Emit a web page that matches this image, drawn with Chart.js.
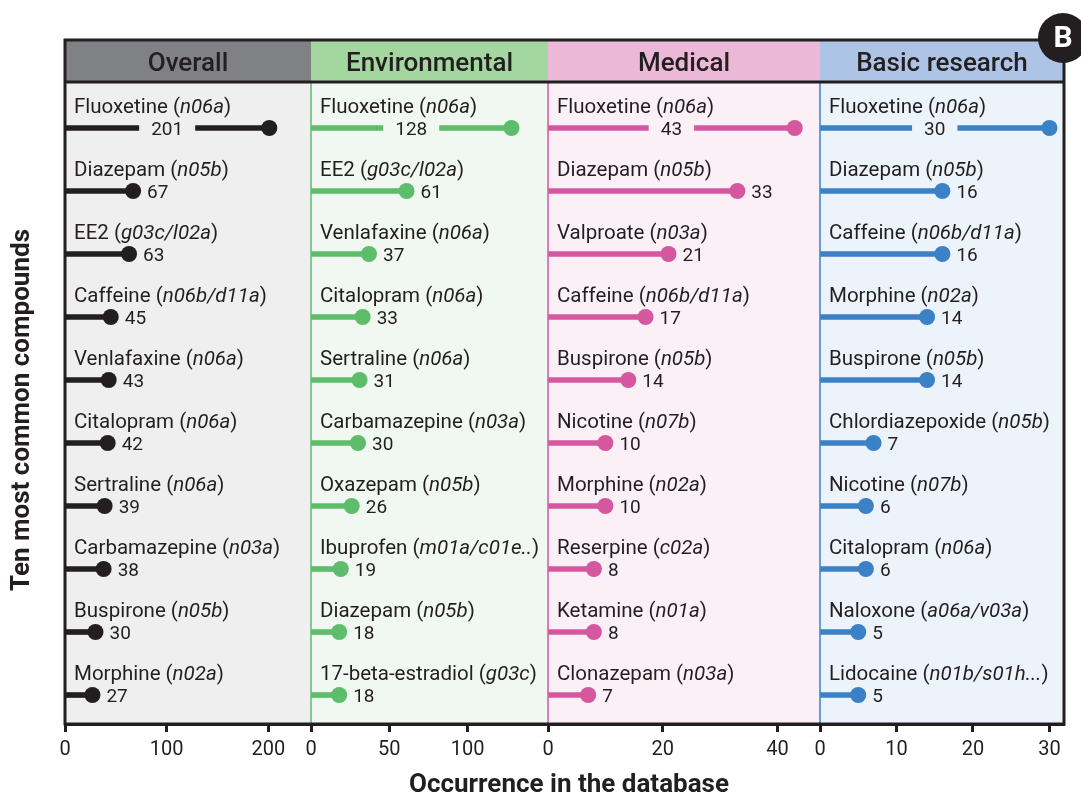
<!DOCTYPE html>
<html>
<head>
<meta charset="utf-8">
<script src="https://cdn.jsdelivr.net/npm/chart.js@4.4.1/dist/chart.umd.min.js"></script>
<style>
html, body { margin: 0; padding: 0; background: #fff; }
#wrap { width: 1081px; height: 794px; }
</style>
</head>
<body>
<div id="wrap"><canvas id="chart-lollipop" width="1081" height="794"></canvas></div>
<script>
const panelTitles = ['Overall', 'Environmental', 'Medical', 'Basic research']
const ranks = [1, 2, 3, 4, 5, 6, 7, 8, 9, 10]

const overallNames = ['Fluoxetine', 'Diazepam', 'EE2', 'Caffeine', 'Venlafaxine', 'Citalopram', 'Sertraline', 'Carbamazepine', 'Buspirone', 'Morphine']
const overallCodes = ['n06a', 'n05b', 'g03c/l02a', 'n06b/d11a', 'n06a', 'n06a', 'n06a', 'n03a', 'n05b', 'n02a']
const overallValues = [201, 67, 63, 45, 43, 42, 39, 38, 30, 27]

const envNames = ['Fluoxetine', 'EE2', 'Venlafaxine', 'Citalopram', 'Sertraline', 'Carbamazepine', 'Oxazepam', 'Ibuprofen', 'Diazepam', '17-beta-estradiol']
const envCodes = ['n06a', 'g03c/l02a', 'n06a', 'n06a', 'n06a', 'n03a', 'n05b', 'm01a/c01e..', 'n05b', 'g03c']
const envValues = [128, 61, 37, 33, 31, 30, 26, 19, 18, 18]

const medNames = ['Fluoxetine', 'Diazepam', 'Valproate', 'Caffeine', 'Buspirone', 'Nicotine', 'Morphine', 'Reserpine', 'Ketamine', 'Clonazepam']
const medCodes = ['n06a', 'n05b', 'n03a', 'n06b/d11a', 'n05b', 'n07b', 'n02a', 'c02a', 'n01a', 'n03a']
const medValues = [43, 33, 21, 17, 14, 10, 10, 8, 8, 7]

const basicNames = ['Fluoxetine', 'Diazepam', 'Caffeine', 'Morphine', 'Buspirone', 'Chlordiazepoxide', 'Nicotine', 'Citalopram', 'Naloxone', 'Lidocaine']
const basicCodes = ['n06a', 'n05b', 'n06b/d11a', 'n02a', 'n05b', 'n05b', 'n07b', 'n06a', 'a06a/v03a', 'n01b/s01h...']
const basicValues = [30, 16, 16, 14, 14, 7, 6, 6, 5, 5]

const overallTicks = [0, 100, 200]
const envTicks = [0, 50, 100]
const medTicks = [0, 20, 40]
const basicTicks = [0, 10, 20, 30]

const TEXT = '#231f20'
const FONT = 'Roboto, "Noto Sans", sans-serif'
const LABEL_SIZE = 20.5

const panels = [
    {names: overallNames, codes: overallCodes, values: overallValues, ticks: overallTicks, max: 242, weight: 246,
     line: '#231f20', head: '#808184', bg: '#eeefee'},
    {names: envNames, codes: envCodes, values: envValues, ticks: envTicks, max: 151.3, weight: 237,
     line: '#5dbd6a', head: '#a4d6a0', bg: '#f1f8f1'},
    {names: medNames, codes: medCodes, values: medValues, ticks: medTicks, max: 47.4, weight: 272,
     line: '#d4579f', head: '#ecb8d7', bg: '#fbf0f6'},
    {names: basicNames, codes: basicCodes, values: basicValues, ticks: basicTicks, max: 31.9, weight: 244,
     line: '#3a81c6', head: '#adc4e6', bg: '#edf3fb'}
]

const datasets = []
const scales = {
    y: {type: 'linear', display: false, reverse: true, offset: false, grace: 0, beginAtZero: false,
        min: 0.27, max: 10.46, grid: {offset: false}}
}

panels.forEach((p, i) => {
    const pts = p.values.map((v, k) => ({x: v, y: ranks[k]}))
    datasets.push({
        type: 'bar', indexAxis: 'y', grouped: false,
        xAxisID: 'x' + i, yAxisID: 'y',
        data: pts,
        backgroundColor: p.line,
        borderWidth: 0,
        barThickness: 5
    })
    datasets.push({
        type: 'scatter',
        xAxisID: 'x' + i, yAxisID: 'y',
        data: pts,
        pointRadius: 8,
        pointHoverRadius: 8,
        pointBackgroundColor: p.line,
        pointBorderWidth: 0
    })
    scales['x' + i] = {
        type: 'linear', axis: 'x', position: 'bottom',
        stack: 'panels', stackWeight: p.weight,
        offset: false,
        min: 0, max: p.max,
        afterBuildTicks: s => { s.ticks = p.ticks.map(v => ({value: v})) },
        afterFit: s => { s.height = 36 },
        grid: {display: true, offset: false, drawOnChartArea: false, drawTicks: true, tickLength: 8, tickWidth: 3, tickColor: TEXT},
        border: {display: true, color: TEXT, width: 3},
        ticks: {autoSkip: false, maxRotation: 0, padding: 6, color: TEXT, font: {family: FONT, size: 20}}
    }
})

function drawLabel(ctx, x, y, name, code) {
    ctx.textAlign = 'left'
    ctx.textBaseline = 'alphabetic'
    ctx.font = LABEL_SIZE + 'px ' + FONT
    let s = name + ' ('
    ctx.fillText(s, x, y)
    x += ctx.measureText(s).width
    ctx.font = 'italic ' + LABEL_SIZE + 'px ' + FONT
    ctx.fillText(code, x, y)
    x += ctx.measureText(code).width
    ctx.font = LABEL_SIZE + 'px ' + FONT
    ctx.fillText(')', x, y)
}

const panelPlugin = {
    id: 'panelDecor',
    beforeDraw(chart) {
        const ctx = chart.ctx
        const area = chart.chartArea
        ctx.save()
        panels.forEach((p, i) => {
            const sc = chart.scales['x' + i]
            ctx.fillStyle = p.bg
            ctx.fillRect(sc.left, area.top, sc.right - sc.left, area.bottom - area.top)
            ctx.fillStyle = p.head
            ctx.fillRect(sc.left, 40, sc.right - sc.left, area.top - 40)
            if (i > 0) {
                ctx.strokeStyle = p.line
                ctx.lineWidth = 1.5
                ctx.beginPath()
                ctx.moveTo(sc.left, area.top)
                ctx.lineTo(sc.left, area.bottom)
                ctx.stroke()
            }
        })
        ctx.restore()
    },
    afterDatasetsDraw(chart) {
        const ctx = chart.ctx
        const yScale = chart.scales.y
        ctx.save()
        ctx.fillStyle = TEXT
        panels.forEach((p, i) => {
            const sc = chart.scales['x' + i]
            p.values.forEach((v, k) => {
                const y = yScale.getPixelForValue(ranks[k])
                const xv = sc.getPixelForValue(v)
                ctx.fillStyle = TEXT
                drawLabel(ctx, sc.left + 9, y - 15, p.names[k], p.codes[k])
                ctx.font = '19px ' + FONT
                ctx.textBaseline = 'alphabetic'
                if (k === 0) {
                    const x0 = sc.getPixelForValue(0)
                    const mid = (x0 + xv) / 2
                    const w = ctx.measureText(String(v)).width + 24
                    ctx.fillStyle = p.bg
                    ctx.fillRect(mid - w / 2, y - 5, w, 10)
                    ctx.fillStyle = TEXT
                    ctx.textAlign = 'center'
                    ctx.fillText(String(v), mid, y + 7)
                } else {
                    ctx.textAlign = 'left'
                    ctx.fillText(String(v), xv + 14, y + 7)
                }
            })
        })
        ctx.restore()
    },
    afterDraw(chart) {
        const ctx = chart.ctx
        const area = chart.chartArea
        ctx.save()
        // header titles
        ctx.fillStyle = TEXT
        ctx.font = '500 26px ' + FONT
        ctx.textAlign = 'center'
        ctx.textBaseline = 'alphabetic'
        panels.forEach((p, i) => {
            const sc = chart.scales['x' + i]
            ctx.fillText(panelTitles[i], (sc.left + sc.right) / 2, 71)
        })
        // frame
        ctx.strokeStyle = TEXT
        ctx.lineWidth = 3
        ctx.strokeRect(area.left, 40, area.right - area.left, area.bottom - 40)
        ctx.beginPath()
        ctx.moveTo(area.left, area.top)
        ctx.lineTo(area.right, area.top)
        ctx.stroke()
        // axis titles
        ctx.font = 'bold 26px ' + FONT
        ctx.fillText('Occurrence in the database', 569, 792)
        ctx.save()
        ctx.translate(22, 410)
        ctx.rotate(-Math.PI / 2)
        ctx.textBaseline = 'middle'
        ctx.fillText('Ten most common compounds', 0, 0)
        ctx.restore()
        // panel badge
        ctx.fillStyle = TEXT
        ctx.beginPath()
        ctx.arc(1063, 38, 25, 0, Math.PI * 2)
        ctx.fill()
        ctx.fillStyle = '#ffffff'
        ctx.font = 'bold 30px ' + FONT
        ctx.textBaseline = 'middle'
        ctx.fillText('B', 1063, 39)
        ctx.restore()
    }
}

const ctx_chart = document.getElementById('chart-lollipop')
const chart_lollipop = new Chart(ctx_chart, {
    type: 'bar',
    data: {datasets: datasets},
    options: {
        responsive: false,
        animation: false,
        layout: {padding: {top: 82, left: 65, right: 17, bottom: 34}},
        plugins: {legend: {display: false}, tooltip: {enabled: false}},
        scales: scales
    },
    plugins: [panelPlugin]
})
</script>
</body>
</html>
